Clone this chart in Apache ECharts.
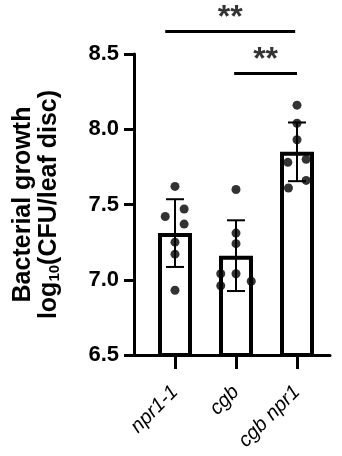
<!DOCTYPE html>
<html>
<head>
<meta charset="utf-8">
<script src="https://cdn.jsdelivr.net/npm/echarts@6/dist/echarts.min.js"></script>
<style>
  html, body { margin: 0; padding: 0; background: #fff; }
  #chart { width: 342px; height: 456px; }
</style>
</head>
<body>
<div id="chart"></div>
<script>
// groups along the x axis
var categories = ['npr1-1', 'cgb', 'cgb npr1'];
var yTicks = [6.5, 7.0, 7.5, 8.0, 8.5];

// bar heights (means) and error bars (SD)
var means = [7.31, 7.16, 7.85];
var sds = [0.225, 0.235, 0.195];

// individual leaf-disc values per group
var npr1Points = [7.62, 7.42, 7.47, 7.37, 7.25, 7.17, 6.93];
var cgbPoints = [7.60, 7.31, 7.24, 7.04, 7.04, 6.96, 6.99];
var cgbNpr1Points = [8.16, 8.04, 7.93, 7.78, 7.80, 7.66, 7.61];
// horizontal spread of the dots (in category units)
var npr1Jitter = [0, -0.16, 0.15, 0.15, 0, 0, 0];
var cgbJitter = [0, 0, 0, 0, -0.25, -0.25, 0.25];
var cgbNpr1Jitter = [0, 0, 0, -0.15, 0.15, 0.15, -0.14];

// significance brackets
var sigFrom = [-0.16, 0.97];
var sigTo = [1.97, 2.0];
var sigLevel = [8.65, 8.37];
var sigText = ['**', '**'];

var chart = echarts.init(document.getElementById('chart'), null, {renderer: 'canvas'});

var groups = [npr1Points, cgbPoints, cgbNpr1Points];
var jitters = [npr1Jitter, cgbJitter, cgbNpr1Jitter];
var dots = [];
groups.forEach(function (vals, gi) {
    vals.forEach(function (v, i) {
        dots.push([gi + jitters[gi][i], v]);
    });
});

var barData = means.map(function (m, i) { return [i, m]; });
var errData = means.map(function (m, i) { return [i, m - sds[i], m + sds[i]]; });

var bracketSeries = sigLevel.map(function (lv, i) {
    return {
        type: 'line',
        data: [[sigFrom[i], lv], [sigTo[i], lv]],
        symbol: 'none',
        clip: false,
        silent: true,
        lineStyle: {color: '#000', width: 3},
        z: 5
    };
});

var starSeries = {
    type: 'scatter',
    data: sigLevel.map(function (lv, i) { return [(sigFrom[i] + sigTo[i]) / 2, lv, sigText[i]]; }),
    symbolSize: 0,
    clip: false,
    silent: true,
    label: {
        show: true,
        position: 'inside',
        offset: [0, -13],
        formatter: function (p) { return p.data[2]; },
        color: '#000',
        fontFamily: 'Liberation Sans',
        fontWeight: 'bold',
        fontSize: 32
    },
    z: 5
};

var option = {
    backgroundColor: '#fff',
    animation: false,
    grid: {left: 134, right: 12, top: 54, bottom: 101, containLabel: false},
    xAxis: {
        type: 'value',
        min: -0.672,
        max: 2.541,
        splitLine: {show: false},
        axisLine: {show: true, onZero: false, lineStyle: {color: '#000', width: 3}},
        axisTick: {show: true, customValues: [0, 1, 2], length: 14, lineStyle: {color: '#000', width: 3}},
        axisLabel: {
            customValues: [0, 1, 2],
            formatter: function (v) { return categories[Math.round(v)]; },
            rotate: 45,
            margin: 34,
            color: '#000',
            fontFamily: 'Liberation Sans',
            fontStyle: 'italic',
            fontSize: 20
        }
    },
    yAxis: {
        type: 'value',
        min: yTicks[0],
        max: yTicks[yTicks.length - 1],
        interval: 0.5,
        splitLine: {show: false},
        axisLine: {show: true, onZero: false, lineStyle: {color: '#000', width: 3}},
        axisTick: {show: true, length: 10, lineStyle: {color: '#000', width: 3}},
        axisLabel: {
            margin: 15,
            color: '#000',
            fontFamily: 'Liberation Sans',
            fontWeight: 'bold',
            fontSize: 22,
            formatter: function (v) { return v.toFixed(1); }
        },
        name: '{a|Bacterial growth}\n{a|log}{s|10}{a|(CFU/leaf disc)}',
        nameLocation: 'middle',
        nameGap: 72,
        nameMoveOverlap: false,
        nameTextStyle: {
            color: '#000',
            lineHeight: 26,
            rich: {
                a: {fontFamily: 'Liberation Sans', fontWeight: 'bold', fontSize: 25, color: '#000', lineHeight: 26},
                s: {fontFamily: 'Liberation Sans', fontWeight: 'bold', fontSize: 15, color: '#000', lineHeight: 26, verticalAlign: 'bottom', padding: [10, 0, 0, 0]}
            }
        }
    },
    series: [
        {
            type: 'bar',
            data: barData,
            barWidth: 34,
            itemStyle: {color: '#fff', borderColor: '#000', borderWidth: 4},
            z: 2
        },
        {
            type: 'custom',
            data: errData,
            z: 3,
            renderItem: function (params, api) {
                var x = api.value(0);
                var lo = api.coord([x, api.value(1)]);
                var hi = api.coord([x, api.value(2)]);
                var cap = 9;
                var st = {stroke: '#000', lineWidth: 2};
                return {
                    type: 'group',
                    children: [
                        {type: 'line', shape: {x1: lo[0], y1: lo[1], x2: hi[0], y2: hi[1]}, style: st},
                        {type: 'line', shape: {x1: lo[0] - cap, y1: lo[1], x2: lo[0] + cap, y2: lo[1]}, style: st},
                        {type: 'line', shape: {x1: hi[0] - cap, y1: hi[1], x2: hi[0] + cap, y2: hi[1]}, style: st}
                    ]
                };
            }
        },
        {
            type: 'scatter',
            data: dots,
            symbolSize: 9,
            itemStyle: {color: '#000'},
            z: 4
        }
    ].concat(bracketSeries).concat([starSeries])
};

chart.setOption(option);
</script>
</body>
</html>
